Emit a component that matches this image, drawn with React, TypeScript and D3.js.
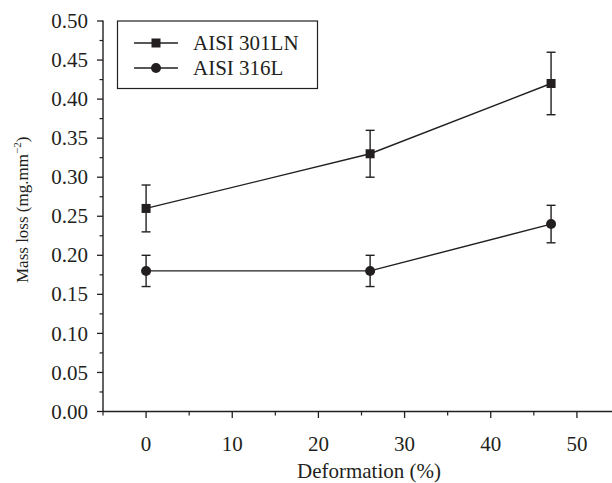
import React from "react";
import * as d3 from "d3";

const deformation = [0, 26, 47];
const seriesNames = ["AISI 301LN", "AISI 316L"];
const mass301 = [0.26, 0.33, 0.42];
const err301 = [0.03, 0.03, 0.04];
const mass316 = [0.18, 0.18, 0.24];
const err316 = [0.02, 0.02, 0.024];
const xTicks = [0, 10, 20, 30, 40, 50];
const xMinor = [-5, 5, 15, 25, 35, 45, 55];
const yTicks = [0, 0.05, 0.1, 0.15, 0.2, 0.25, 0.3, 0.35, 0.4, 0.45, 0.5];

const W = 612;
const H = 483;
const FONT = "'Liberation Serif', 'Times New Roman', 'DejaVu Serif', serif";
const C = "#231f20";

export default function App() {
  const x = d3.scaleLinear().domain([-5, 55]).range([103, 620]);
  const y = d3.scaleLinear().domain([0, 0.5]).range([411.5, 21]);
  const yMinor = d3.range(0.025, 0.5, 0.05);
  const line = d3
    .line<number>()
    .x((_, i) => x(deformation[i]))
    .y((d) => y(d));

  const series = [
    { name: seriesNames[0], vals: mass301, errs: err301, shape: "square" },
    { name: seriesNames[1], vals: mass316, errs: err316, shape: "circle" },
  ];

  const marker = (shape: string, cx: number, cy: number) =>
    shape === "square" ? (
      <rect x={cx - 4.5} y={cy - 4.5} width={9} height={9} fill={C} />
    ) : (
      <circle cx={cx} cy={cy} r={5} fill={C} />
    );

  return (
    <svg
      width={W}
      height={H}
      style={{ position: "absolute", left: 0, top: 0, background: "#fff", fontFamily: FONT }}
    >
      <rect width={W} height={H} fill="#fff" />
      {/* axes */}
      <line x1={x(-5)} x2={x(-5)} y1={y(0.5) - 0.5} y2={y(0)} stroke={C} strokeWidth={1.4} />
      <line x1={x(-5)} x2={W} y1={y(0)} y2={y(0)} stroke={C} strokeWidth={1.4} />
      {yTicks.map((t) => (
        <g key={"y" + t}>
          <line x1={x(-5) - 6} x2={x(-5)} y1={y(t)} y2={y(t)} stroke={C} strokeWidth={1.3} />
          <text x={88} y={y(t)} dy="0.34em" textAnchor="end" fontSize={21} fill={C}>
            {t.toFixed(2)}
          </text>
        </g>
      ))}
      {yMinor.map((t) => (
        <line key={"ym" + t} x1={x(-5) - 3.5} x2={x(-5)} y1={y(t)} y2={y(t)} stroke={C} strokeWidth={1.2} />
      ))}
      {xTicks.map((t) => (
        <g key={"x" + t}>
          <line x1={x(t)} x2={x(t)} y1={y(0)} y2={y(0) + 6.5} stroke={C} strokeWidth={1.3} />
          <text x={x(t)} y={451} textAnchor="middle" fontSize={21} fill={C}>
            {t}
          </text>
        </g>
      ))}
      {xMinor.map((t) => (
        <line key={"xm" + t} x1={x(t)} x2={x(t)} y1={y(0)} y2={y(0) + 4} stroke={C} strokeWidth={1.2} />
      ))}
      <text x={369} y={478} textAnchor="middle" fontSize={21} fill={C}>
        Deformation (%)
      </text>
      <text
        transform={`translate(28,283) rotate(-90)`}
        textAnchor="start"
        fontSize={17}
        fill={C}
      >
        Mass loss (mg.mm
        <tspan dy={-7} fontSize={11}>−2</tspan>
        <tspan dy={7}>)</tspan>
      </text>

      {/* series */}
      {series.map((s) => (
        <g key={s.name}>
          <path d={line(s.vals) || ""} fill="none" stroke={C} strokeWidth={1.4} />
          {s.vals.map((v, i) => {
            const cx = x(deformation[i]);
            const top = y(v + s.errs[i]);
            const bot = y(v - s.errs[i]);
            return (
              <g key={i}>
                <line x1={cx} x2={cx} y1={top} y2={bot} stroke={C} strokeWidth={1.4} />
                <line x1={cx - 4.5} x2={cx + 4.5} y1={top} y2={top} stroke={C} strokeWidth={1.4} />
                <line x1={cx - 4.5} x2={cx + 4.5} y1={bot} y2={bot} stroke={C} strokeWidth={1.4} />
                {marker(s.shape, cx, y(v))}
              </g>
            );
          })}
        </g>
      ))}

      {/* legend */}
      <rect x={117.5} y={21} width={200} height={67.5} fill="#fff" stroke={C} strokeWidth={1.2} />
      {series.map((s, i) => {
        const ly = 43 + i * 25;
        return (
          <g key={"lg" + i}>
            <line x1={134} x2={178} y1={ly} y2={ly} stroke={C} strokeWidth={1.4} />
            {marker(s.shape, 156, ly)}
            <text x={193} y={ly} dy="0.34em" fontSize={21} fill={C}>
              {s.name}
            </text>
          </g>
        );
      })}
    </svg>
  );
}
